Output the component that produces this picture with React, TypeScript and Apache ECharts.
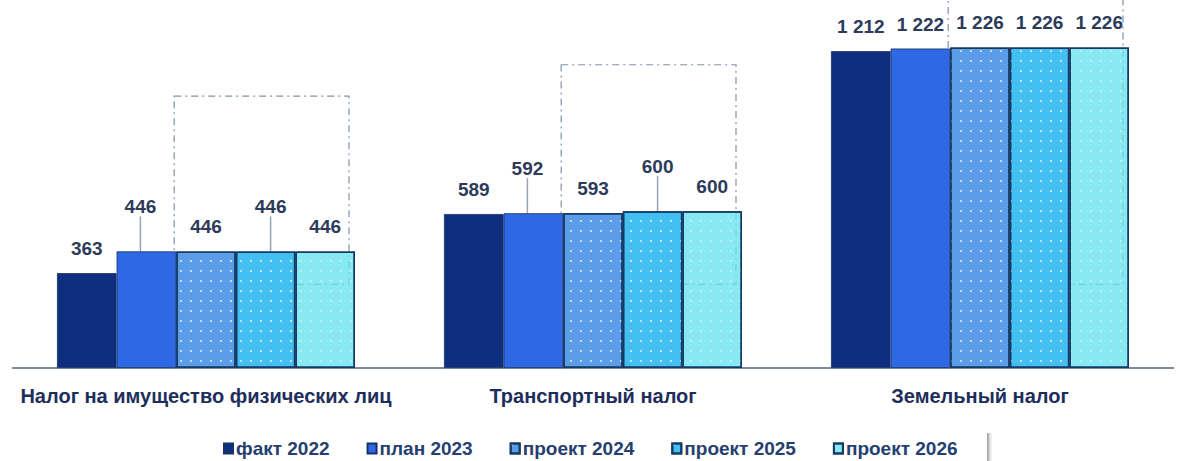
import React, { useEffect, useRef } from "react";
import * as echarts from "echarts";

const categories = [
  "Налог на имущество физических лиц",
  "Транспортный налог",
  "Земельный налог",
];
const seriesNames = ["факт 2022", "план 2023", "проект 2024", "проект 2025", "проект 2026"];
const fact2022 = [363, 589, 1212];
const plan2023 = [446, 592, 1222];
const proj2024 = [446, 593, 1226];
const proj2025 = [446, 600, 1226];
const proj2026 = [446, 600, 1226];
// dashed "projection" frame (value range in data units)
const projBoxTop = [1040, 1160, 1460];
const projBoxBottom = [320, 320, 320];
// labels lifted above with a leader line: [seriesIndex, categoryIndex]
const liftedLabels: [number, number][] = [
  [1, 0],
  [3, 0],
  [1, 1],
  [3, 1],
];

const FONT = "'Liberation Sans', Arial, sans-serif";
const colors = ["#0f2f7e", "#2f68e4", "#5b9de8", "#43bff1", "rgba(104,227,240,0.78)"];
const values = [fact2022, plan2023, proj2024, proj2025, proj2026];

export default function App() {
  const ref = useRef<HTMLDivElement>(null);
  useEffect(() => {
    if (!ref.current) return;
    const chart = echarts.init(ref.current, null, { renderer: "svg" });
    const isLifted = (s: number, d: number) => liftedLabels.some(([a, b]) => a === s && b === d);
    const lineStyle = { color: "#9aa3ad", width: 1.5 };

    const barSeries = values.map((vals, si) => ({
      type: "bar",
      name: seriesNames[si],
      barGap: "0%",
      barCategoryGap: "23%",
      z: 3,
      itemStyle: {
        color: colors[si],
        borderColor: si < 2 ? "#15306a" : "#143a66",
        borderWidth: si < 2 ? 0.8 : 1.5,
        decal:
          si >= 2
            ? {
                symbol: "circle",
                symbolSize: 1,
                color: si === 4 ? "rgba(255,255,255,0.45)" : "rgba(255,255,255,0.75)",
                dashArrayX: [[2, 8]],
                dashArrayY: [2, 8],
              }
            : undefined,
      },
      label: {
        show: true,
        position: "top",
        distance: 15,
        fontFamily: FONT,
        fontWeight: "bold",
        fontSize: 19,
        color: "#2d3b5a",
        formatter: (p: any) => String(p.value).replace(/\B(?=(\d{3})+(?!\d))/g, " "),
      },
      labelLine: { show: false, lineStyle },
      labelLayout: (p: any) => {
        if (isLifted(p.seriesIndex, p.dataIndex)) {
          return { dy: -20, dx: p.seriesIndex === 1 ? -6 : 5 };
        }
        return {};
      },
      data: vals.map((v, di) =>
        isLifted(si, di) ? { value: v, labelLine: { show: true, lineStyle } } : v
      ),
    }));

    const boxSeries = {
      type: "custom",
      name: "box",
      z: 1,
      clip: false,
      silent: true,
      encode: { x: 0, y: 1 },
      data: categories.map((_, i) => [i, projBoxTop[i], projBoxBottom[i]]),
      renderItem: (params: any, api: any) => {
        const top = api.coord([api.value(0), api.value(1)]);
        const bot = api.coord([api.value(0), api.value(2)]);
        const band = api.size([1, 0])[0];
        const groupW = band * 0.77;
        const barW = groupW / 5;
        const x1 = top[0] - groupW / 2 + 2 * barW - 2;
        const x2 = top[0] + groupW / 2 - 6;
        return {
          type: "rect",
          shape: { x: x1, y: top[1], width: x2 - x1, height: bot[1] - top[1] },
          style: { fill: "none", stroke: "#7f93ab", lineWidth: 1.2, lineDash: [7, 4, 2, 4] },
        };
      },
    };

    chart.setOption({
      animation: false,
      backgroundColor: "#ffffff",
      grid: { left: 12.5, right: 7.5, top: 2, bottom: 93, containLabel: false, outerBoundsMode: "none" },
      xAxis: {
        type: "category",
        data: categories,
        axisTick: { show: false },
        axisLine: { lineStyle: { color: "#55657c", width: 1.5 } },
        axisLabel: {
          margin: 18,
          fontFamily: FONT,
          fontWeight: "bold",
          fontSize: 20,
          color: "#1e2e5c",
          interval: 0,
        },
      },
      yAxis: { type: "value", min: 0, max: 1400, show: false, splitLine: { show: false } },
      legend: {
        data: seriesNames,
        left: 223,
        top: 439,
        padding: 0,
        itemGap: 37,
        itemWidth: 9,
        itemHeight: 10,
        icon: "rect",
        textStyle: {
          fontFamily: FONT,
          fontWeight: "bold",
          fontSize: 19,
          color: "#25406f",
          padding: [0, 0, 0, -2],
        },
      },
      graphic: [
        {
          type: "rect",
          left: 987,
          top: 433,
          shape: { width: 5, height: 28 },
          style: {
            fill: new echarts.graphic.LinearGradient(0, 0, 1, 0, [
              { offset: 0, color: "rgba(120,120,120,0.8)" },
              { offset: 1, color: "rgba(200,200,200,0.1)" },
            ]),
          },
        },
      ],
      series: [...barSeries, boxSeries],
    });
    return () => chart.dispose();
  }, []);
  return <div ref={ref} style={{ position: "absolute", left: 0, top: 0, width: 1181, height: 461 }} />;
}
